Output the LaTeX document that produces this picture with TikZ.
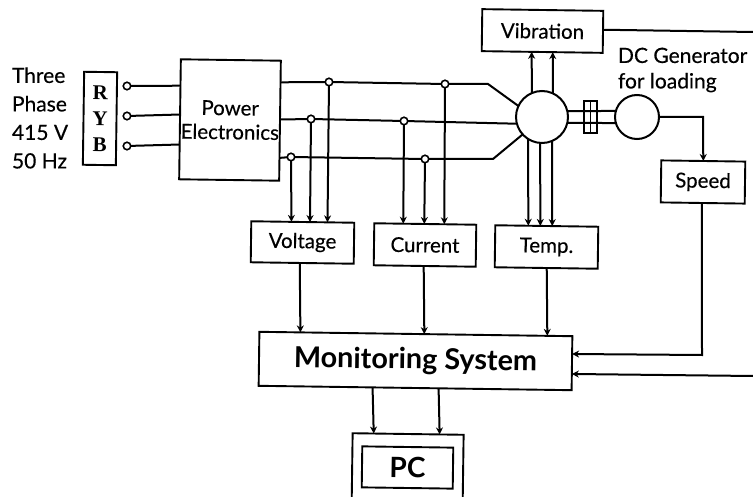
\documentclass[tikz,border=0pt]{standalone}
\usepackage{fontspec}
\setmainfont{Lato}[UprightFeatures={FakeBold=0.35}]
\newfontfamily\serifb{Liberation Serif}[Scale=1]
\usetikzlibrary{calc,arrows.meta}
\tikzset{
  box/.style={draw,rectangle,inner sep=0pt,outer sep=0pt,rotate=-0.8,line width=1.9pt,align=center},
  lab/.style={font=\fontsize{20.5}{24}\selectfont},
  term/.style={draw,circle,fill=white,minimum size=7.5pt,inner sep=0pt,outer sep=0pt,line width=1.6pt},
  round/.style={draw,circle,inner sep=0pt,outer sep=0pt,line width=2pt},
  arr/.style={-{Stealth[length=7pt,width=7pt]},line width=2pt},
  free/.style={inner sep=0pt,outer sep=0pt,align=left,font=\fontsize{21}{28.5}\selectfont}
}
\begin{document}
\begin{tikzpicture}[x=1pt,y=-1pt,line width=2pt]
\useasboundingbox (0,0) rectangle (753,497);
\clip (0,0) rectangle (753,497);
\fill[white] (0,0) rectangle (753,497);
% labels
\node[free,anchor=west] (src) at (12,118) {Three\\Phase\\415 V\\50 Hz};
\node[free,anchor=west] (dcg) at (618,70) {DC Generator\\[-3pt]for loading};
% boxes
\node[box,minimum width=33pt,minimum height=93pt,font=\serifb\bfseries\fontsize{21}{26}\selectfont] (ryb) at (100,118.5) {R\\Y\\B};
\node[box,minimum width=100pt,minimum height=120pt,lab] (pe) at (230,120) {Power\\Electronics};
\node[box,minimum width=121pt,minimum height=42pt,lab] (vib) at (542.5,31) {Vibration};
\node[box,minimum width=84pt,minimum height=42pt,lab] (spd) at (703,182) {Speed};
\node[box,minimum width=103pt,minimum height=41pt,lab] (volt) at (302.5,242.5) {Voltage};
\node[box,minimum width=102pt,minimum height=42pt,lab] (curr) at (425,245) {Current};
\node[box,minimum width=103pt,minimum height=42pt,lab] (temp) at (546.5,247) {Temp.};
\node[box,minimum width=313pt,minimum height=54pt,font=\bfseries\fontsize{28.8}{30}\selectfont] (mon) at (415.5,361) {Monitoring System};
\node[box,minimum width=111pt,minimum height=90pt] (pco) at (407.5,479) {};
\node[box,minimum width=91pt,minimum height=41pt,font=\bfseries\fontsize{28}{30}\selectfont] (pc) at (407.5,467.5) {PC};
% machines
\node[round,minimum size=52pt] (motor) at (542,117) {};
\node[round,minimum size=44pt] (gen) at (637,117) {};
\node[draw,rectangle,minimum width=13pt,minimum height=32pt,inner sep=0pt,outer sep=0pt,line width=1.6pt] (coup) at (590.5,117) {};
% terminals and junctions
\node[term] (t1) at (127,86) {};
\node[term] (t2) at (127,116) {};
\node[term] (t3) at (127,146) {};
\node[term] (j1) at (329,82) {};
\node[term] (j2) at (311,119) {};
\node[term] (j3) at (291,157) {};
\node[term] (j4) at (445,84) {};
\node[term] (j5) at (404,121) {};
\node[term] (j6) at (425,159) {};
% free ends and bends
\coordinate (e1) at (753,32);
\coordinate (e2) at (753,376);
\coordinate (b1) at (488,84);
\coordinate (b2) at (493,159);
\coordinate (b3) at (703,117);
\coordinate (b4) at (702,355);
% input lines
\draw (t1) -- ($(pe.north west)!.22!(pe.south west)$);
\draw (t2) -- ($(pe.north west)!.46!(pe.south west)$);
\draw (t3) -- ($(pe.north west)!.71!(pe.south west)$);
% output lines
\draw ($(pe.north east)!.18!(pe.south east)$) -- (j1) -- (j4) -- (b1) -- (motor.155);
\draw ($(pe.north east)!.49!(pe.south east)$) -- (j2) -- (j5) -- (motor.195);
\draw ($(pe.north east)!.81!(pe.south east)$) -- (j3) -- (j6) -- (b2) -- (motor.222);
% sensing arrows
\draw[arr] (j3) -- ($(volt.north west)!.39!(volt.north east)$);
\draw[arr] (j2) -- ($(volt.north west)!.57!(volt.north east)$);
\draw[arr] (j1) -- ($(volt.north west)!.74!(volt.north east)$);
\draw[arr] (j5) -- ($(curr.north west)!.284!(curr.north east)$);
\draw[arr] (j6) -- ($(curr.north west)!.49!(curr.north east)$);
\draw[arr] (j4) -- ($(curr.north west)!.686!(curr.north east)$);
\draw[arr] (motor.238) -- ($(temp.north west)!.32!(temp.north east)$);
\draw[arr] (motor.266) -- ($(temp.north west)!.437!(temp.north east)$);
\draw[arr] (motor.293) -- ($(temp.north west)!.553!(temp.north east)$);
\draw[arr] (motor.113) -- ($(vib.south west)!.413!(vib.south east)$);
\draw[arr] (motor.65) -- ($(vib.south west)!.587!(vib.south east)$);
% to monitoring system
\draw[arr] ($(volt.south west)!.476!(volt.south east)$) -- ($(mon.north west)!.131!(mon.north east)$);
\draw[arr] ($(curr.south west)!.49!(curr.south east)$) -- ($(mon.north west)!.527!(mon.north east)$);
\draw[arr] ($(temp.south west)!.505!(temp.south east)$) -- ($(mon.north west)!.92!(mon.north east)$);
% to PC
\draw[arr] ($(mon.south west)!.364!(mon.south east)$) -- ($(pco.north west)!.19!(pco.north east)$);
\draw[arr] ($(mon.south west)!.575!(mon.south east)$) -- ($(pco.north west)!.784!(pco.north east)$);
% shaft and coupling
\draw (motor.13) -- (gen.164);
\draw (motor.-13) -- (gen.196);
\draw[line width=1.6pt] (coup.north) -- (coup.south);
% generator and speed
\draw[arr] (gen.east) -- (b3) -- (spd.north);
\draw[arr] ($(spd.south west)!.49!(spd.south east)$) -- (b4) -- ($(mon.north east)!.33!(mon.south east)$);
\draw ($(vib.north east)!.45!(vib.south east)$) -- (e1);
\draw[arr] (e2) -- ($(mon.north east)!.70!(mon.south east)$);
\end{tikzpicture}
\end{document}
